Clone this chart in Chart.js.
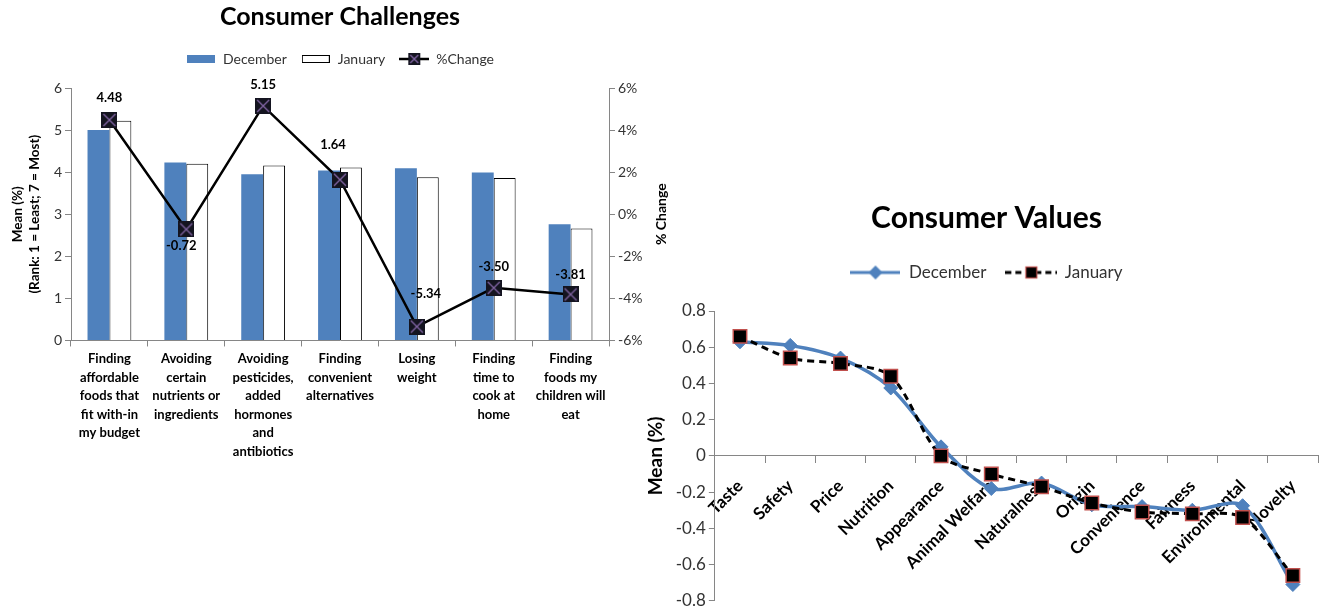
<!DOCTYPE html>
<html>
<head>
<meta charset="utf-8">
<script src="https://cdn.jsdelivr.net/npm/chart.js@4.4.0/dist/chart.umd.min.js"></script>
<style>
  html, body { margin: 0; padding: 0; background: #fff; }
  body { width: 1319px; height: 608px; position: relative; overflow: hidden; }
  #challengesChart { position: absolute; left: 0; top: 0; }
  #valuesChart { position: absolute; left: 636px; top: 190px; }
</style>
</head>
<body>
<canvas id="challengesChart" width="680" height="470"></canvas>
<canvas id="valuesChart" width="693" height="424"></canvas>
<script>
// Consumer Challenges
const challengeCategories = [
    ['Finding', 'affordable', 'foods that', 'fit with-in', 'my budget'],
    ['Avoiding', 'certain', 'nutrients or', 'ingredients'],
    ['Avoiding', 'pesticides,', 'added', 'hormones', 'and', 'antibiotics'],
    ['Finding', 'convenient', 'alternatives'],
    ['Losing', 'weight'],
    ['Finding', 'time to', 'cook at', 'home'],
    ['Finding', 'foods my', 'children will', 'eat']
];
const decemberMeans = [5.00, 4.23, 3.95, 4.04, 4.09, 3.99, 2.76];
const januaryMeans = [5.22, 4.20, 4.16, 4.11, 3.88, 3.86, 2.66];
const percentChange = [4.48, -0.72, 5.15, 1.64, -5.34, -3.50, -3.81];

// Consumer Values
const valueCategories = ['Taste', 'Safety', 'Price', 'Nutrition', 'Appearance', 'Animal Welfare',
    'Naturalness', 'Origin', 'Convenience', 'Fairness', 'Environmental', 'Novelty'];
const decemberValues = [0.63, 0.61, 0.54, 0.375, 0.05, -0.18, -0.15, -0.27, -0.28, -0.30, -0.275, -0.71];
const januaryValues = [0.66, 0.54, 0.51, 0.44, 0.00, -0.10, -0.17, -0.26, -0.31, -0.32, -0.34, -0.66];

const FONT = 'Lato, "Open Sans", sans-serif';
Chart.defaults.font.family = FONT;
Chart.defaults.color = '#333';

// label nudges for the %Change values (dx, dy from the point)
const changeLabelOffsets = [[0, -22], [-5, 16], [0, -21], [-7, -35], [9, -33], [0, -21], [0, -20]];

function makeCanvas(w, h, draw) {
    const c = document.createElement('canvas');
    c.width = w;
    c.height = h;
    draw(c.getContext('2d'));
    return c;
}

function drawXSquare(ctx, x, y, s) {
    ctx.fillStyle = '#141420';
    ctx.fillRect(x, y, s, s);
    ctx.strokeStyle = '#8064A2';
    ctx.lineWidth = 1.4;
    ctx.beginPath();
    ctx.moveTo(x + 2, y + 2); ctx.lineTo(x + s - 2, y + s - 2);
    ctx.moveTo(x + s - 2, y + 2); ctx.lineTo(x + 2, y + s - 2);
    ctx.stroke();
}

const changeMarker = makeCanvas(16, 16, ctx => drawXSquare(ctx, 0, 0, 16));

const challengeLegendIcons = [
    makeCanvas(28, 8, ctx => { ctx.fillStyle = '#4F81BD'; ctx.fillRect(0, 0, 28, 8); }),
    makeCanvas(28, 8, ctx => { ctx.fillStyle = '#fff'; ctx.fillRect(0, 0, 28, 8); ctx.strokeStyle = '#000'; ctx.lineWidth = 1; ctx.strokeRect(0.5, 0.5, 27, 7); }),
    makeCanvas(30, 12, ctx => {
        ctx.strokeStyle = '#000'; ctx.lineWidth = 2.5;
        ctx.beginPath(); ctx.moveTo(0, 6); ctx.lineTo(30, 6); ctx.stroke();
        drawXSquare(ctx, 9, 0, 12);
    })
];

const valueLegendIcons = [
    makeCanvas(50, 16, ctx => {
        ctx.strokeStyle = '#4F81BD'; ctx.lineWidth = 3;
        ctx.beginPath(); ctx.moveTo(0, 8); ctx.lineTo(50, 8); ctx.stroke();
        ctx.fillStyle = '#4F81BD';
        ctx.beginPath(); ctx.moveTo(25, 1); ctx.lineTo(32, 8); ctx.lineTo(25, 15); ctx.lineTo(18, 8); ctx.closePath(); ctx.fill();
    }),
    makeCanvas(52, 16, ctx => {
        ctx.strokeStyle = '#000'; ctx.lineWidth = 3; ctx.setLineDash([6, 4]);
        ctx.beginPath(); ctx.moveTo(0, 8); ctx.lineTo(52, 8); ctx.stroke();
        ctx.setLineDash([]);
        ctx.fillStyle = '#000'; ctx.fillRect(20, 2, 12, 12);
        ctx.strokeStyle = '#C0504D'; ctx.lineWidth = 1.2; ctx.strokeRect(20.5, 2.5, 11, 11);
    })
];

function imageLegend(icons) {
    return chart => chart.data.datasets.map((ds, i) => ({
        text: ds.label,
        pointStyle: icons[i],
        datasetIndex: i,
        hidden: false,
        fontColor: '#333',
        lineWidth: 0,
        strokeStyle: 'rgba(0,0,0,0)',
        fillStyle: 'rgba(0,0,0,0)'
    }));
}

// extra room under the legend
function legendGap(extra) {
    return {
        id: 'legendGap',
        beforeInit(chart) {
            if (!chart.legend) return;
            const origFit = chart.legend.fit;
            chart.legend.fit = function () {
                origFit.call(this);
                this.height += extra;
            };
        }
    };
}

const changeLabels = {
    id: 'changeLabels',
    afterDatasetsDraw(chart) {
        const meta = chart.getDatasetMeta(2);
        const ctx = chart.ctx;
        ctx.save();
        ctx.font = 'bold 13px ' + FONT;
        ctx.fillStyle = '#000';
        ctx.textAlign = 'center';
        ctx.textBaseline = 'middle';
        meta.data.forEach((pt, i) => {
            const off = changeLabelOffsets[i];
            ctx.fillText(percentChange[i].toFixed(2), pt.x + off[0], pt.y + off[1]);
        });
        ctx.restore();
    }
};

// Chart.js draws right-axis titles top-to-bottom, Excel reads bottom-to-top
const rightAxisTitle = {
    id: 'rightAxisTitle',
    afterDraw(chart) {
        const s = chart.scales.y1;
        const ctx = chart.ctx;
        ctx.save();
        ctx.translate(chart.chartArea.right + 52, (s.top + s.bottom) / 2);
        ctx.rotate(-Math.PI / 2);
        ctx.font = 'bold 14px ' + FONT;
        ctx.fillStyle = '#000';
        ctx.textAlign = 'center';
        ctx.textBaseline = 'middle';
        ctx.fillText('% Change', 0, 0);
        ctx.restore();
    }
};

new Chart(document.getElementById('challengesChart'), {
    type: 'bar',
    data: {
        labels: challengeCategories,
        datasets: [
            {
                label: 'December',
                data: decemberMeans,
                backgroundColor: '#4F81BD',
                borderWidth: 0,
                categoryPercentage: 0.57,
                barPercentage: 1.0,
                order: 1
            },
            {
                label: 'January',
                data: januaryMeans,
                backgroundColor: '#FFFFFF',
                borderColor: '#000',
                borderWidth: 1,
                categoryPercentage: 0.57,
                barPercentage: 1.0,
                order: 1
            },
            {
                type: 'line',
                label: '%Change',
                data: percentChange,
                yAxisID: 'y1',
                borderColor: '#000',
                borderWidth: 2.5,
                pointStyle: changeMarker,
                tension: 0,
                order: 0
            }
        ]
    },
    options: {
        responsive: false,
        animation: false,
        layout: { padding: { left: 4, right: 4, top: 0, bottom: 6 } },
        plugins: {
            title: {
                display: true,
                text: 'Consumer Challenges',
                color: '#000',
                font: { size: 25, weight: 'bold' },
                padding: { top: 2, bottom: 6 }
            },
            legend: {
                labels: {
                    usePointStyle: true,
                    pointStyleWidth: 30,
                    padding: 14,
                    font: { size: 14 },
                    generateLabels: imageLegend(challengeLegendIcons)
                }
            },
            tooltip: { enabled: false }
        },
        scales: {
            x: {
                grid: { drawOnChartArea: false, tickLength: 6, color: '#868686' },
                border: { color: '#868686' },
                ticks: { color: '#000', font: { size: 13, weight: 'bold', lineHeight: 1.43 }, maxRotation: 0, autoSkip: false }
            },
            y: {
                min: 0, max: 6,
                afterFit: s => { s.width = 67; },
                ticks: { stepSize: 1, font: { size: 14 } },
                grid: { drawOnChartArea: false, tickLength: 6, color: '#868686' },
                border: { color: '#868686' },
                title: {
                    display: true,
                    text: ['Mean (%)', '(Rank: 1 = Least; 7 = Most)'],
                    color: '#000',
                    font: { size: 13.5, weight: 'bold', lineHeight: 1.27 },
                    padding: { top: 5, bottom: 6 }
                }
            },
            y1: {
                position: 'right',
                min: -6, max: 6,
                afterFit: s => { s.width = 67; },
                ticks: { stepSize: 2, font: { size: 14 }, callback: v => v + '%' },
                grid: { drawOnChartArea: false, tickLength: 6, color: '#868686' },
                border: { color: '#868686' }
            }
        }
    },
    plugins: [changeLabels, rightAxisTitle, legendGap(12)]
});

new Chart(document.getElementById('valuesChart'), {
    type: 'line',
    data: {
        labels: valueCategories,
        datasets: [
            {
                label: 'December',
                data: decemberValues,
                borderColor: '#4F81BD',
                borderWidth: 3.5,
                pointStyle: 'rectRot',
                pointRadius: 7,
                pointBackgroundColor: '#4F81BD',
                pointBorderColor: '#4F81BD',
                pointBorderWidth: 1,
                tension: 0.3,
                order: 1
            },
            {
                label: 'January',
                data: januaryValues,
                borderColor: '#000',
                borderWidth: 3,
                borderDash: [7, 5],
                pointStyle: 'rect',
                pointRadius: 9.5,
                pointBackgroundColor: '#000',
                pointBorderColor: '#C0504D',
                pointBorderWidth: 1.5,
                tension: 0.3,
                order: 0
            }
        ]
    },
    options: {
        responsive: false,
        animation: false,
        layout: { padding: { left: 8, right: 0, top: 0, bottom: 0 } },
        plugins: {
            title: {
                display: true,
                text: 'Consumer Values',
                color: '#000',
                font: { size: 30, weight: 'bold' },
                padding: { top: 10, bottom: 8 }
            },
            legend: {
                labels: {
                    usePointStyle: true,
                    pointStyleWidth: 50,
                    padding: 20,
                    font: { size: 17 },
                    generateLabels: imageLegend(valueLegendIcons)
                }
            },
            tooltip: { enabled: false }
        },
        scales: {
            x: {
                position: { y: 0 },
                offset: true,
                grid: { drawOnChartArea: false, offset: true, tickLength: 7, color: '#868686' },
                border: { color: '#868686' },
                ticks: { color: '#000', font: { size: 17, weight: 'bold' }, minRotation: 45, maxRotation: 45, autoSkip: false, padding: 13 }
            },
            y: {
                min: -0.8, max: 0.8,
                ticks: {
                    stepSize: 0.2,
                    font: { size: 17 },
                    callback: v => Math.abs(v) < 1e-9 ? '0' : v.toFixed(1)
                },
                grid: { drawOnChartArea: false, tickLength: 6, color: '#868686' },
                border: { color: '#868686' },
                title: {
                    display: true,
                    text: 'Mean (%)',
                    color: '#000',
                    font: { size: 19, weight: 'bold' },
                    padding: { top: 0, bottom: 6 }
                }
            }
        }
    },
    plugins: [legendGap(20)]
});
</script>
</body>
</html>
